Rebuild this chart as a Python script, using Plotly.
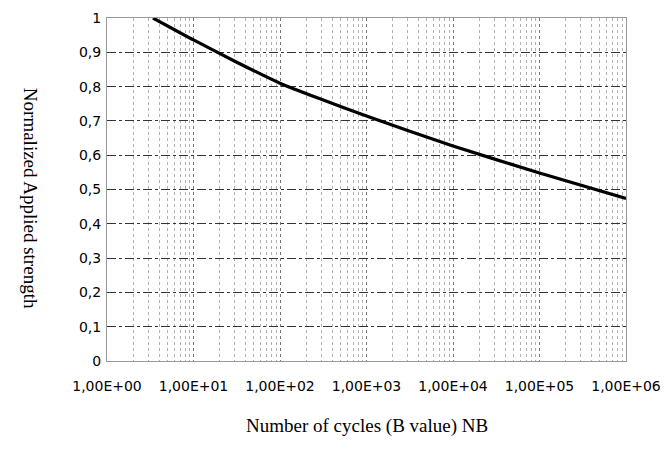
import plotly.graph_objects as go

cycles = [3.4, 10, 30, 100, 300, 1000, 10000, 100000, 1000000]
strength = [1.0, 0.936, 0.874, 0.81, 0.763, 0.714, 0.627, 0.548, 0.474]

x_tickvals = [1, 10, 100, 1000, 10000, 100000, 1000000]
x_ticktext = ["1,00E+00", "1,00E+01", "1,00E+02", "1,00E+03", "1,00E+04", "1,00E+05", "1,00E+06"]
y_tickvals = [0, 0.1, 0.2, 0.3, 0.4, 0.5, 0.6, 0.7, 0.8, 0.9, 1]
y_ticktext = ["0", "0,1", "0,2", "0,3", "0,4", "0,5", "0,6", "0,7", "0,8", "0,9", "1"]

fig = go.Figure()
fig.add_trace(go.Scatter(x=cycles, y=strength, mode="lines",
                         line=dict(color="black", width=3.2, shape="spline", smoothing=0.6),
                         showlegend=False, hoverinfo="skip", cliponaxis=False))

fig.update_layout(
    width=665, height=460,
    margin=dict(l=107, r=39, t=18, b=99, autoexpand=False),
    paper_bgcolor="white", plot_bgcolor="white",
    font=dict(family="DejaVu Sans, Arial, sans-serif", size=14, color="black"),
)
fig.update_xaxes(
    type="log", range=[0, 6], automargin=False,
    tickvals=x_tickvals, ticktext=x_ticktext,
    showgrid=True, gridcolor="#777777", griddash="dot", gridwidth=1,
    minor=dict(dtick="D1", showgrid=True, gridcolor="#b0b0b0", griddash="dot", gridwidth=1),
    showline=True, linecolor="#999999", mirror=True,
    zeroline=False, ticks="", ticklabelstandoff=12,
    tickfont=dict(size=14),
)
fig.update_yaxes(
    range=[0, 1], automargin=False,
    tickvals=y_tickvals, ticktext=y_ticktext,
    showgrid=True, gridcolor="#333333", griddash="dashdot", gridwidth=1,
    showline=True, linecolor="#999999", mirror=True,
    zeroline=False, ticks="", ticklabelstandoff=2,
    tickfont=dict(size=14),
)
fig.add_annotation(text="Number of cycles (B value) NB", xref="paper", yref="paper",
                   x=0.5, y=-0.19, xanchor="center", yanchor="middle", showarrow=False,
                   font=dict(family="Liberation Serif, Times New Roman, serif", size=19))
fig.add_annotation(text="Normalized Applied strength", xref="paper", yref="paper",
                   x=-0.146, y=0.475, xanchor="center", yanchor="middle", showarrow=False,
                   textangle=90,
                   font=dict(family="Liberation Serif, Times New Roman, serif", size=19))

fig.write_html("out.html", config={"displayModeBar": False},
               post_script="document.body.style.margin='0';document.body.style.overflow='hidden';")
